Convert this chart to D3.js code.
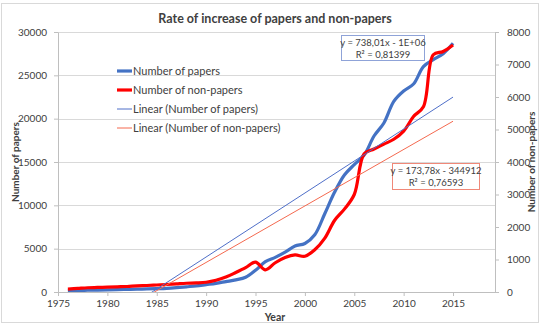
<!DOCTYPE html>
<html>
<head>
<meta charset="utf-8">
<script src="https://cdn.jsdelivr.net/npm/d3@7"></script>
<style>
  body { margin: 0; background: #fff; }
  text { font-family: Lato, "Liberation Sans", Arial, sans-serif; fill: #404040; }
</style>
</head>
<body>
<div id="chart"></div>
<script>
// data
var years = [1976,1977,1978,1979,1980,1981,1982,1983,1984,1985,1986,1987,1988,1989,1990,
             1991,1992,1993,1994,1995,1996,1997,1998,1999,2000,2001,2002,2003,2004,2005,
             2006,2007,2008,2009,2010,2011,2012,2013,2014,2015];
var papers = [150,180,200,220,250,270,300,330,350,380,420,500,600,700,850,
              1000,1200,1400,1700,2500,3500,4000,4600,5300,5600,6600,9000,11500,13500,14700,
              15800,18000,19500,22000,23200,24000,26000,26800,27500,28700];
var nonPapers = [90,110,130,140,150,160,170,190,200,215,230,250,270,280,300,
                 360,460,600,750,920,680,900,1060,1140,1100,1300,1650,2200,2550,3000,
                 4250,4400,4550,4700,4950,5400,5700,7300,7400,7600];
var xTicks = [1975,1980,1985,1990,1995,2000,2005,2010,2015];
var yLeftTicks = [0,5000,10000,15000,20000,25000,30000];
var yRightTicks = [0,1000,2000,3000,4000,5000,6000,7000,8000];
// trendline coefficients (slope from the labels)
var trendPapers = {slope: 738.01, intercept: -1464600};
var trendNonPapers = {slope: 173.78, intercept: -344912};

var width = 549, height = 333;
var margin = {top: 32, right: 54, bottom: 41, left: 58};
var font = "Lato, 'Liberation Sans', Arial, sans-serif";

var svg = d3.select("#chart")
  .append("svg")
    .attr("width", width)
    .attr("height", height);

// chart frame
svg.append("rect")
  .attr("x", 1.5).attr("y", 3.5)
  .attr("width", 537).attr("height", 319)
  .attr("fill", "none")
  .attr("stroke", "#d9d9d9");

var x = d3.scaleLinear()
  .domain([1975, 2019.25])
  .range([margin.left, width - margin.right]);
var yL = d3.scaleLinear()
  .domain([0, 30000])
  .range([height - margin.bottom, margin.top]);
var yR = d3.scaleLinear()
  .domain([0, 8000])
  .range([height - margin.bottom, margin.top]);

// gridlines
svg.append("g")
  .selectAll("line")
  .data(yLeftTicks.slice(1))
  .enter()
  .append("line")
    .attr("x1", x.range()[0]).attr("x2", x.range()[1])
    .attr("y1", function(d) { return Math.round(yL(d)) + 0.5; })
    .attr("y2", function(d) { return Math.round(yL(d)) + 0.5; })
    .attr("stroke", "#d9d9d9");

// axes
var xAxis = svg.append("g")
  .attr("transform", "translate(0," + (height - margin.bottom) + ")")
  .call(d3.axisBottom(x).tickValues(xTicks).tickFormat(d3.format("d")).tickSize(4).tickPadding(4).tickSizeOuter(0));
var yAxisL = svg.append("g")
  .attr("transform", "translate(" + margin.left + ",0)")
  .call(d3.axisLeft(yL).tickValues(yLeftTicks).tickFormat(d3.format("d")).tickSize(4).tickPadding(7).tickSizeOuter(0));
var yAxisR = svg.append("g")
  .attr("transform", "translate(" + (width - margin.right) + ",0)")
  .call(d3.axisRight(yR).tickValues(yRightTicks).tickFormat(d3.format("d")).tickSize(4).tickPadding(8).tickSizeOuter(0));

[xAxis, yAxisL, yAxisR].forEach(function(g) {
  g.select(".domain").attr("stroke", "#bfbfbf");
  g.selectAll(".tick line").attr("stroke", "#bfbfbf");
  g.selectAll(".tick text")
    .style("font-family", font)
    .style("font-size", "10px")
    .attr("fill", "#404040");
});

// clip to plot area
svg.append("clipPath").attr("id", "plot")
  .append("rect")
    .attr("x", x.range()[0]).attr("y", margin.top)
    .attr("width", x.range()[1] - x.range()[0])
    .attr("height", height - margin.bottom - margin.top);

var plot = svg.append("g").attr("clip-path", "url(#plot)");

var linePapers = d3.line()
  .x(function(d, i) { return x(years[i]); })
  .y(function(d) { return yL(d); })
  .curve(d3.curveCatmullRom.alpha(0.5));
var lineNon = d3.line()
  .x(function(d, i) { return x(years[i]); })
  .y(function(d) { return yR(d); })
  .curve(d3.curveCatmullRom.alpha(0.5));

plot.append("path")
  .datum(papers)
  .attr("d", linePapers)
  .attr("fill", "none")
  .attr("stroke", "#4472c4")
  .style("stroke-width", 3.2)
  .attr("stroke-linejoin", "round");

plot.append("path")
  .datum(nonPapers)
  .attr("d", lineNon)
  .attr("fill", "none")
  .attr("stroke", "#ff0000")
  .style("stroke-width", 3.2)
  .attr("stroke-linejoin", "round");

// trendlines over the data range
var yr0 = years[0], yr1 = years[years.length - 1];
plot.append("line")
  .attr("x1", x(yr0)).attr("y1", yL(trendPapers.slope * yr0 + trendPapers.intercept))
  .attr("x2", x(yr1)).attr("y2", yL(trendPapers.slope * yr1 + trendPapers.intercept))
  .attr("stroke", "#4f6fc8")
  .style("stroke-width", 1);
plot.append("line")
  .attr("x1", x(yr0)).attr("y1", yR(trendNonPapers.slope * yr0 + trendNonPapers.intercept))
  .attr("x2", x(yr1)).attr("y2", yR(trendNonPapers.slope * yr1 + trendNonPapers.intercept))
  .attr("stroke", "#f4694f")
  .style("stroke-width", 1);

// title
svg.append("text")
  .attr("x", 275).attr("y", 23)
  .attr("text-anchor", "middle")
  .style("font-size", "12.5px")
  .style("font-weight", "bold")
  .attr("fill", "#262626")
  .text("Rate of increase of papers and non-papers");

// axis titles
svg.append("text")
  .attr("x", 275).attr("y", 321)
  .attr("text-anchor", "middle")
  .style("font-size", "10.5px").style("font-weight", "bold")
  .attr("fill", "#262626")
  .text("Year");
svg.append("text")
  .attr("transform", "translate(19,162) rotate(-90)")
  .attr("text-anchor", "middle")
  .style("font-size", "10px").style("font-weight", "bold")
  .attr("fill", "#262626")
  .text("Number of papers");
svg.append("text")
  .attr("transform", "translate(535,162) rotate(-90)")
  .attr("text-anchor", "middle")
  .style("font-size", "10px").style("font-weight", "bold")
  .attr("fill", "#262626")
  .text("Number of non-papers");

// legend
var legendItems = [
  {name: "Number of papers", color: "#4472c4", w: 3.2},
  {name: "Number of non-papers", color: "#ff0000", w: 3.2},
  {name: "Linear (Number of papers)", color: "#4f6fc8", w: 1},
  {name: "Linear (Number of non-papers)", color: "#f4694f", w: 1}
];
var legend = svg.append("g")
  .selectAll("g")
  .data(legendItems)
  .enter()
  .append("g")
    .attr("transform", function(d, i) { return "translate(117," + (71 + i * 19) + ")"; });
legend.append("line")
  .attr("x1", 0).attr("x2", 15)
  .attr("stroke", function(d) { return d.color; })
  .style("stroke-width", function(d) { return d.w; });
legend.append("text")
  .attr("x", 16).attr("dy", "0.35em")
  .style("font-size", "11px")
  .text(function(d) { return d.name; });

// equation boxes
function eqBox(bx, by, bw, bh, stroke, color, lines) {
  var g = svg.append("g");
  g.append("rect")
    .attr("x", bx + 0.5).attr("y", by + 0.5)
    .attr("width", bw).attr("height", bh)
    .attr("fill", "#fff")
    .attr("stroke", stroke);
  g.selectAll("text")
    .data(lines)
    .enter()
    .append("text")
      .attr("x", bx + bw / 2 + 0.5)
      .attr("y", function(d, i) { return by + 11 + i * 11.5; })
      .attr("text-anchor", "middle")
      .style("font-size", "9.5px")
      .attr("fill", color)
      .text(function(d) { return d; });
}
eqBox(341, 35, 83, 25, "#8fa3d8", "#3f51a8", ["y = 738,01x - 1E+06", "R\u00b2 = 0,81399"]);
eqBox(392, 163, 87, 26, "#f08878", "#e8392a", ["y = 173,78x - 344912", "R\u00b2 = 0,76593"]);
</script>
</body>
</html>
